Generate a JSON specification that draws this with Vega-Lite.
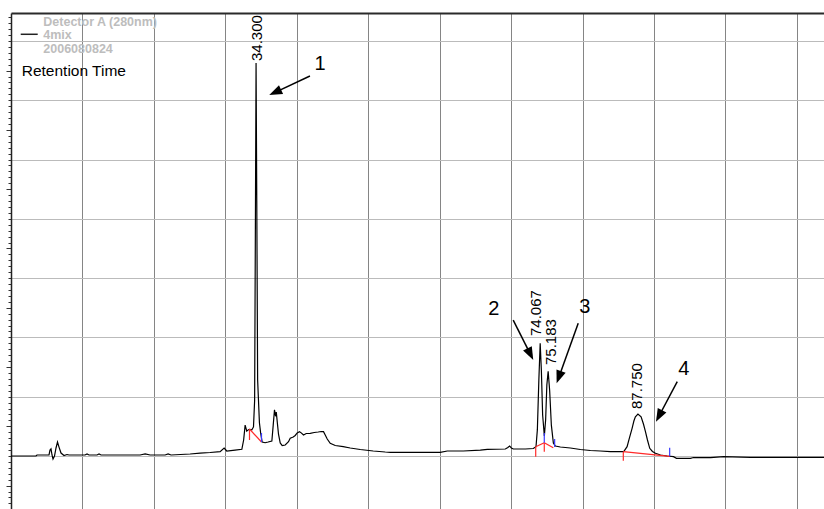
{
  "$schema": "https://vega.github.io/schema/vega-lite/v6.json",
  "width": 813,
  "height": 496,
  "autosize": {"type": "none"},
  "padding": {"left": 11, "top": 13, "right": 0, "bottom": 0},
  "background": "white",
  "config": {"view": {"stroke": null}, "font": "Liberation Sans"},
  "datasets": {
    "signal": [
      {"t":0,"v":0},{"t":3.5,"v":0},{"t":3.64,"v":0.017},{"t":5.32,"v":0.017},{"t":5.46,"v":0.1},{"t":5.6,"v":0.12},{"t":5.74,"v":0.017},{"t":5.88,"v":-0.05},{"t":6.09,"v":0},{"t":6.3,"v":0.135},{"t":6.51,"v":0.236},{"t":6.72,"v":0.15},{"t":7.0,"v":0.05},{"t":7.42,"v":0.008},{"t":7.84,"v":0.025},{"t":8.12,"v":0.017},{"t":10.36,"v":0.017},{"t":10.64,"v":0.034},{"t":10.92,"v":0.017},{"t":12.04,"v":0.017},{"t":12.32,"v":0.034},{"t":12.6,"v":0.017},{"t":18.07,"v":0.017},{"t":18.77,"v":0.034},{"t":19.47,"v":0.017},{"t":21.57,"v":0.017},{"t":21.99,"v":0.034},{"t":22.4,"v":0.017},{"t":25.07,"v":0.034},{"t":26.47,"v":0.05},{"t":27.87,"v":0.059},{"t":29.27,"v":0.073},{"t":29.83,"v":0.135},{"t":30.2,"v":0.084},{"t":31.36,"v":0.1},{"t":32.31,"v":0.113},{"t":32.56,"v":0.27},{"t":32.77,"v":0.52},{"t":33.0,"v":0.42},{"t":33.19,"v":0.44},{"t":33.37,"v":0.45},{"t":33.71,"v":0.44},{"t":33.94,"v":0.49},{"t":34.1,"v":0.94},{"t":34.22,"v":4.3},{"t":34.3,"v":6.63},{"t":34.4,"v":4.3},{"t":34.52,"v":1.28},{"t":34.77,"v":0.56},{"t":34.94,"v":0.39},{"t":35.15,"v":0.236},{"t":35.57,"v":0.224},{"t":35.99,"v":0.236},{"t":36.51,"v":0.253},{"t":36.7,"v":0.52},{"t":36.88,"v":0.78},{"t":37.03,"v":0.67},{"t":37.13,"v":0.74},{"t":37.27,"v":0.57},{"t":37.44,"v":0.37},{"t":37.68,"v":0.22},{"t":37.96,"v":0.177},{"t":38.38,"v":0.185},{"t":38.84,"v":0.24},{"t":39.08,"v":0.3},{"t":39.5,"v":0.32},{"t":39.78,"v":0.346},{"t":40.06,"v":0.39},{"t":40.38,"v":0.41},{"t":40.62,"v":0.39},{"t":40.94,"v":0.354},{"t":41.32,"v":0.38},{"t":41.88,"v":0.383},{"t":42.44,"v":0.396},{"t":43.0,"v":0.405},{"t":43.42,"v":0.413},{"t":43.74,"v":0.41},{"t":43.98,"v":0.354},{"t":44.26,"v":0.287},{"t":44.68,"v":0.214},{"t":45.38,"v":0.177},{"t":46.5,"v":0.157},{"t":47.48,"v":0.135},{"t":48.88,"v":0.11},{"t":50.7,"v":0.084},{"t":52.38,"v":0.067},{"t":53.08,"v":0.062},{"t":57.28,"v":0.062},{"t":60.08,"v":0.062},{"t":61.06,"v":0.084},{"t":63.3,"v":0.084},{"t":65.69,"v":0.1},{"t":66.67,"v":0.113},{"t":69.19,"v":0.118},{"t":69.54,"v":0.143},{"t":69.79,"v":0.169},{"t":70.03,"v":0.135},{"t":70.31,"v":0.118},{"t":71.99,"v":0.118},{"t":73.1,"v":0.126},{"t":73.48,"v":0.157},{"t":73.67,"v":0.44},{"t":73.88,"v":1.28},{"t":74.067,"v":1.9},{"t":74.23,"v":1.45},{"t":74.41,"v":0.69},{"t":74.65,"v":0.337},{"t":74.83,"v":0.61},{"t":75.0,"v":1.2},{"t":75.183,"v":1.43},{"t":75.39,"v":1.11},{"t":75.63,"v":0.52},{"t":75.91,"v":0.22},{"t":76.19,"v":0.169},{"t":76.89,"v":0.152},{"t":78.29,"v":0.135},{"t":79.69,"v":0.11},{"t":81.09,"v":0.093},{"t":82.49,"v":0.084},{"t":83.89,"v":0.073},{"t":85.76,"v":0.073},{"t":86.23,"v":0.157},{"t":86.55,"v":0.3},{"t":86.93,"v":0.467},{"t":87.18,"v":0.59},{"t":87.39,"v":0.66},{"t":87.75,"v":0.708},{"t":88.19,"v":0.66},{"t":88.52,"v":0.54},{"t":88.8,"v":0.41},{"t":89.08,"v":0.27},{"t":89.4,"v":0.13},{"t":89.78,"v":0.076},{"t":90.2,"v":0.046},{"t":90.9,"v":0.017},{"t":91.84,"v":0},{"t":92.72,"v":-0.012},{"t":93.14,"v":-0.039},{"t":95.1,"v":-0.039},{"t":95.52,"v":-0.025},{"t":97.9,"v":-0.029},{"t":99.72,"v":-0.012},{"t":103.5,"v":-0.022},{"t":113.8,"v":-0.022}
    ],
    "peaks": [
      {"t":34.38,"v":6.645,"label":"34.300"},
      {"t":73.55,"v":2.007,"label":"74.067"},
      {"t":75.58,"v":1.518,"label":"75.183"},
      {"t":87.61,"v":0.776,"label":"87.750"}
    ],
    "numbers": [
      {"t":43.24,"v":6.61,"label":"1"},
      {"t":67.59,"v":2.479,"label":"2"},
      {"t":80.33,"v":2.513,"label":"3"},
      {"t":94.18,"v":1.467,"label":"4"}
    ],
    "arrows": [
      {"arrow":1,"t1":41.84,"v1":6.409,"t2":36.97,"v2":6.134},
      {"arrow":2,"t1":70.29,"v1":2.293,"t2":72.69,"v2":1.717},
      {"arrow":3,"t1":79.39,"v1":2.238,"t2":76.68,"v2":1.329},
      {"arrow":4,"t1":93.25,"v1":1.253,"t2":90.7,"v2":0.675}
    ],
    "integration": [
      {"kind":"base","t1":33.38,"v1":0.455,"t2":35.06,"v2":0.236},
      {"kind":"base","t1":33.38,"v1":0.455,"t2":33.38,"v2":0.27},
      {"kind":"base","t1":73.44,"v1":0.157,"t2":73.44,"v2":-0.012},
      {"kind":"base","t1":73.44,"v1":0.157,"t2":74.64,"v2":0.224},
      {"kind":"base","t1":74.64,"v1":0.224,"t2":75.9,"v2":0.14},
      {"kind":"base","t1":74.64,"v1":0.224,"t2":74.64,"v2":0.073},
      {"kind":"base","t1":85.7,"v1":0.073,"t2":85.7,"v2":-0.079},
      {"kind":"base","t1":85.7,"v1":0.073,"t2":92.19,"v2":-0.005},
      {"kind":"end","t1":35.06,"v1":0.388,"t2":35.06,"v2":0.236},
      {"kind":"end","t1":74.64,"v1":0.388,"t2":74.64,"v2":0.224},
      {"kind":"end","t1":76.09,"v1":0.287,"t2":76.09,"v2":0.152},
      {"kind":"end","t1":92.19,"v1":0.14,"t2":92.19,"v2":-0.005}
    ],
    "legendInfo": [
      {"t":4.52,"v":7.252,"text":"Detector A (280nm)"},
      {"t":4.52,"v":7.027,"text":"4mix"},
      {"t":4.52,"v":6.802,"text":"2006080824"}
    ],
    "legendLine": [{"t1":1.36,"t2":3.74,"v":7.113}],
    "titleText": [{"t":1.5,"v":6.41,"text":"Retention Time"}]
  },
  "layer": [
    {
      "data": {"name": "signal"},
      "mark": {"type": "line", "color": "#000000", "strokeWidth": 1.2},
      "encoding": {
        "x": {
          "field": "t", "type": "quantitative",
          "scale": {"domain": [0, 113.79], "nice": false, "zero": false},
          "axis": {
            "orient": "top", "title": null, "labels": false, "ticks": false,
            "values": [10,20,30,40,50,60,70,80,90,100,110], "tickCount": 50,
            "grid": true, "gridColor": "#858585", "gridWidth": 1,
            "domainColor": "#2a2a2a", "domainWidth": 2
          }
        },
        "y": {
          "field": "v", "type": "quantitative",
          "scale": {"domain": [-0.894, 7.472], "nice": false, "zero": false},
          "axis": {
            "orient": "left", "title": null, "labels": false, "tickCount": 500,
            "values": [-0.8,-0.7,-0.6,-0.5,-0.4,-0.3,-0.2,-0.1,0,0.1,0.2,0.3,0.4,0.5,0.6,0.7,0.8,0.9,1,1.1,1.2,1.3,1.4,1.5,1.6,1.7,1.8,1.9,2,2.1,2.2,2.3,2.4,2.5,2.6,2.7,2.8,2.9,3,3.1,3.2,3.3,3.4,3.5,3.6,3.7,3.8,3.9,4,4.1,4.2,4.3,4.4,4.5,4.6,4.7,4.8,4.9,5,5.1,5.2,5.3,5.4,5.5,5.6,5.7,5.8,5.9,6,6.1,6.2,6.3,6.4,6.5,6.6,6.7,6.8,6.9,7,7.1,7.2,7.3,7.4],
            "tickSize": {"condition": {"test": "abs(datum.value - floor(datum.value) - 0.5) < 0.01", "value": 5}, "value": 3},
            "tickColor": "#333333", "tickWidth": 1,
            "domainColor": "#222222", "domainWidth": 1.5,
            "grid": true, "gridColor": "#bbbbbb", "gridWidth": 1,
            "gridOpacity": {"condition": {"test": "abs(datum.value - round(datum.value)) < 0.01", "value": 1}, "value": 0}
          }
        }
      }
    },
    {
      "data": {"name": "integration"},
      "mark": {"type": "rule", "strokeWidth": 1.2},
      "encoding": {
        "x": {"field": "t1", "type": "quantitative"},
        "y": {"field": "v1", "type": "quantitative"},
        "x2": {"field": "t2"},
        "y2": {"field": "v2"},
        "color": {"field": "kind", "type": "nominal", "scale": {"domain": ["base", "end"], "range": ["#ff2a2a", "#3a3aff"]}, "legend": null}
      }
    },
    {
      "data": {"name": "arrows"},
      "mark": {"type": "rule", "color": "#000000", "strokeWidth": 1.5},
      "encoding": {
        "x": {"field": "t1", "type": "quantitative"},
        "y": {"field": "v1", "type": "quantitative"},
        "x2": {"field": "t2"},
        "y2": {"field": "v2"}
      }
    },
    {
      "data": {"name": "arrows"},
      "mark": {"type": "point", "shape": "M0,-1L-0.75,1L0.75,1Z", "filled": true, "color": "#000000", "size": 169, "opacity": 1},
      "encoding": {
        "x": {"field": "t2", "type": "quantitative"},
        "y": {"field": "v2", "type": "quantitative"},
        "angle": {"field": "arrow", "type": "quantitative", "scale": {"domain": [1, 2, 3, 4], "range": [245, 153.4, 199.8, 208]}, "legend": null}
      }
    },
    {
      "data": {"name": "peaks"},
      "mark": {"type": "text", "angle": 270, "align": "left", "baseline": "middle", "fontSize": 15, "dx": 1, "color": "#000000", "font": "Liberation Sans"},
      "encoding": {
        "x": {"field": "t", "type": "quantitative"},
        "y": {"field": "v", "type": "quantitative"},
        "text": {"field": "label"}
      }
    },
    {
      "data": {"name": "numbers"},
      "mark": {"type": "text", "align": "center", "baseline": "middle", "fontSize": 20, "color": "#000000", "font": "Liberation Sans"},
      "encoding": {
        "x": {"field": "t", "type": "quantitative"},
        "y": {"field": "v", "type": "quantitative"},
        "text": {"field": "label"}
      }
    },
    {
      "data": {"name": "legendInfo"},
      "mark": {"type": "text", "align": "left", "baseline": "alphabetic", "fontSize": 12.5, "fontWeight": "bold", "color": "#bdbdbd", "font": "Liberation Sans"},
      "encoding": {
        "x": {"field": "t", "type": "quantitative"},
        "y": {"field": "v", "type": "quantitative"},
        "text": {"field": "text"}
      }
    },
    {
      "data": {"name": "legendLine"},
      "mark": {"type": "rule", "color": "#222222", "strokeWidth": 1.5},
      "encoding": {
        "x": {"field": "t1", "type": "quantitative"},
        "x2": {"field": "t2"},
        "y": {"field": "v", "type": "quantitative"}
      }
    },
    {
      "data": {"name": "titleText"},
      "mark": {"type": "text", "align": "left", "baseline": "alphabetic", "fontSize": 15.5, "color": "#000000", "font": "Liberation Sans"},
      "encoding": {
        "x": {"field": "t", "type": "quantitative"},
        "y": {"field": "v", "type": "quantitative"},
        "text": {"field": "text"}
      }
    }
  ]
}
